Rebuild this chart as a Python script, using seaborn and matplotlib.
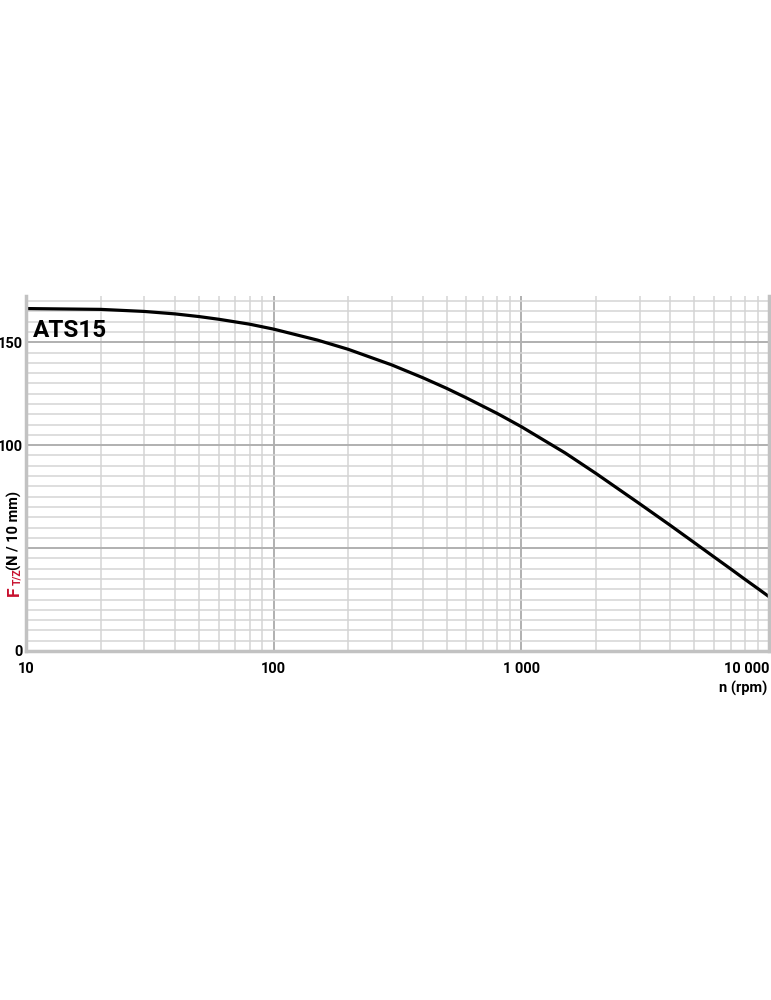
import numpy as np
import pandas as pd
import matplotlib
matplotlib.use("Agg")
import matplotlib.pyplot as plt
import seaborn as sns
from matplotlib.ticker import FixedLocator, MultipleLocator, LogLocator, NullFormatter

# values
speed_rpm = [10, 20, 30, 40, 50, 60, 80, 100, 150, 200, 300, 400, 500, 600, 800,
             1000, 1500, 2000, 3000, 4000, 5000, 6000, 7000, 8000, 9000, 10000]
force = [166.4, 166.0, 165.0, 163.8, 162.5, 161.2, 158.8, 156.4, 151.1, 146.6,
         139.0, 132.8, 127.6, 123.0, 115.4, 109.0, 96.3, 86.3, 71.6, 61.0,
         52.6, 45.7, 39.9, 34.8, 30.4, 26.4]

x_ticks = [10, 100, 1000, 10000]
x_labels = ["10", "100", "1 000", "10 000"]
y_ticks = [0, 50, 100, 150]
y_labels = ["0", "", "100", "150"]

df = pd.DataFrame({"n": speed_rpm, "F": force})

sns.set_style("white")
plt.rcParams["font.family"] = ["Roboto", "DejaVu Sans"]
plt.rcParams["font.weight"] = "bold"
plt.rcParams["text.color"] = "black"
plt.rcParams["xtick.color"] = "black"
plt.rcParams["ytick.color"] = "black"

fig = plt.figure(figsize=(7.71, 10), dpi=100)
ax = fig.add_axes([26 / 771, 0.349, (769 - 26) / 771, 0.704 - 0.349])

# grid
ax.set_xscale("log")
ax.set_xlim(10, 10000)
ax.set_ylim(0, 172.5)
ax.xaxis.set_major_locator(FixedLocator(x_ticks))
ax.xaxis.set_minor_locator(LogLocator(base=10, subs=np.arange(2, 10)))
ax.xaxis.set_minor_formatter(NullFormatter())
ax.yaxis.set_major_locator(FixedLocator(y_ticks))
ax.yaxis.set_minor_locator(MultipleLocator(5))
ax.grid(which="major", color="#b0b0b0", linewidth=1.4)
ax.grid(which="minor", color="#d4d4d4", linewidth=1.1)
ax.set_axisbelow(True)

sns.lineplot(data=df, x="n", y="F", ax=ax, color="black", linewidth=2.3)

ax.set_xticks(x_ticks)
ax.set_xticklabels(x_labels, fontsize=10.5, fontweight="bold", color="black")
ax.get_xticklabels()[-1].set_horizontalalignment("right")
ax.set_yticks(y_ticks)
ax.set_yticklabels(y_labels, fontsize=10.5, fontweight="bold", color="black")
ax.tick_params(axis="both", which="both", length=0)
ax.tick_params(axis="x", pad=8)
ax.tick_params(axis="y", pad=2)
ax.set_xlabel("")
ax.set_ylabel("")

for side in ["left", "bottom", "right"]:
    ax.spines[side].set_color("#c2c2c2")
    ax.spines[side].set_linewidth(2.5)
ax.spines["top"].set_visible(False)

ax.text(0.0094, 0.8845, "ATS15", transform=ax.transAxes, fontsize=17.5,
        fontweight="bold", va="baseline", ha="left", color="black")

fig.text(767 / 771, 1 - 688 / 1000, "n (rpm)", fontsize=10.5, fontweight="bold",
         ha="right", va="center", color="black")

# y label: red F with subscript, then black unit text
red = "#c8102e"
fig.text(14 / 771, 1 - 596 / 1000, "F", rotation=90, color=red,
         fontsize=12.5, fontweight="bold", ha="center", va="bottom")
fig.text(17.5 / 771, 1 - 585 / 1000, "T/Z", rotation=90, color=red,
         fontsize=7.5, fontweight="bold", ha="center", va="bottom")
fig.text(14 / 771, 1 - 570 / 1000, "(N / 10 mm)", rotation=90, color="black",
         fontsize=10.5, fontweight="bold", ha="center", va="bottom")

fig.savefig("out.png", dpi=100)
